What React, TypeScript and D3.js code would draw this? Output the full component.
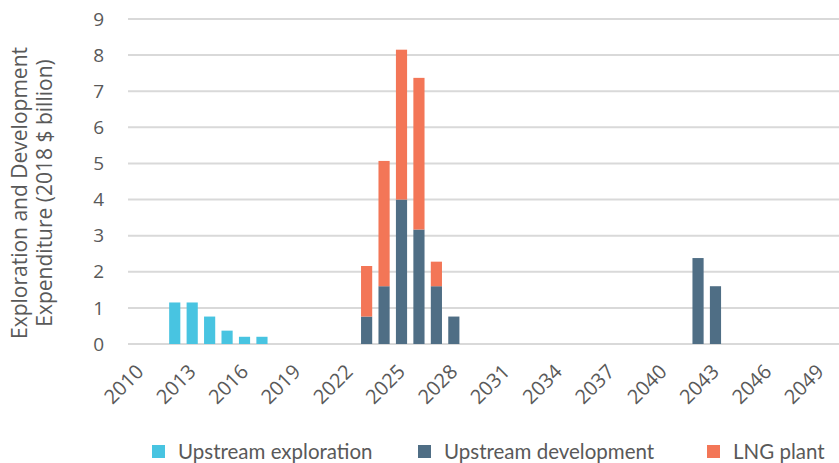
import * as d3 from 'd3';
import React, { useEffect, useRef } from 'react';

const years = [
  2010, 2011, 2012, 2013, 2014, 2015, 2016, 2017, 2018, 2019,
  2020, 2021, 2022, 2023, 2024, 2025, 2026, 2027, 2028, 2029,
  2030, 2031, 2032, 2033, 2034, 2035, 2036, 2037, 2038, 2039,
  2040, 2041, 2042, 2043, 2044, 2045, 2046, 2047, 2048, 2049
];
const tickYears = [2010, 2013, 2016, 2019, 2022, 2025, 2028, 2031, 2034, 2037, 2040, 2043, 2046, 2049];
const yTicks = [0, 1, 2, 3, 4, 5, 6, 7, 8, 9];

const explorationYears = [2012, 2013, 2014, 2015, 2016, 2017];
const explorationValues = [1.15, 1.15, 0.76, 0.37, 0.2, 0.2];

const developmentYears = [2023, 2024, 2025, 2026, 2027, 2028, 2042, 2043];
const developmentValues = [0.76, 1.6, 4.0, 3.17, 1.6, 0.76, 2.38, 1.6];

const lngYears = [2023, 2024, 2025, 2026, 2027];
const lngValues = [1.4, 3.47, 4.15, 4.2, 0.68];

const seriesNames = ['Upstream exploration', 'Upstream development', 'LNG plant'];
const seriesColors = ['#48c4e1', '#4f6e85', '#f37657'];

const W = 839;
const H = 463;

export default function App() {
  const svgRef = useRef<SVGSVGElement | null>(null);

  useEffect(() => {
    const svg = d3.select(svgRef.current);
    svg.selectAll('*').remove();

    // build the table: one row per year, one column per series
    const lookup = (ys: number[], vs: number[], y: number) => {
      const i = ys.indexOf(y);
      return i < 0 ? 0 : vs[i];
    };
    const table = years.map((y) => ({
      year: String(y),
      [seriesNames[0]]: lookup(explorationYears, explorationValues, y),
      [seriesNames[1]]: lookup(developmentYears, developmentValues, y),
      [seriesNames[2]]: lookup(lngYears, lngValues, y)
    }));

    const stacked = d3.stack<any>().keys(seriesNames)(table);

    const x = d3.scaleBand().domain(years.map(String)).range([128, 832]).padding(0.36);
    const y = d3.scaleLinear().domain([0, 9]).range([344, 19]);
    const color = d3.scaleOrdinal<string, string>().domain(seriesNames).range(seriesColors);

    const font = '"Open Sans", sans-serif';
    const textColor = '#595959';

    // grid lines
    svg
      .append('g')
      .selectAll('line')
      .data(yTicks)
      .enter()
      .append('line')
      .attr('x1', 128)
      .attr('x2', W)
      .attr('y1', (d) => y(d))
      .attr('y2', (d) => y(d))
      .attr('stroke', '#d9d9d9')
      .attr('stroke-width', 2);

    // y tick labels
    svg
      .append('g')
      .selectAll('text')
      .data(yTicks)
      .enter()
      .append('text')
      .attr('x', 104)
      .attr('y', (d) => y(d))
      .attr('dy', '0.35em')
      .attr('text-anchor', 'end')
      .style('font-family', font)
      .style('font-size', '19px')
      .attr('fill', textColor)
      .text((d) => d);

    // bars
    svg
      .append('g')
      .selectAll('g')
      .data(stacked)
      .enter()
      .append('g')
      .attr('fill', (d) => color(d.key))
      .selectAll('rect')
      .data((d) => d.filter((p) => p[1] - p[0] > 0))
      .enter()
      .append('rect')
      .attr('x', (d) => x(d.data.year)!)
      .attr('width', x.bandwidth())
      .attr('y', (d) => y(d[1]))
      .attr('height', (d) => y(d[0]) - y(d[1]));

    // x tick labels, rotated
    svg
      .append('g')
      .selectAll('text')
      .data(tickYears)
      .enter()
      .append('text')
      .attr('transform', (d) => `translate(${x(String(d))! + x.bandwidth() / 2},368) rotate(-45)`)
      .attr('dy', '0.35em')
      .attr('text-anchor', 'end')
      .style('font-family', font)
      .style('font-size', '20px')
      .attr('fill', textColor)
      .text((d) => d);

    // y axis title (two lines)
    const title = svg
      .append('text')
      .attr('transform', 'translate(0,193) rotate(-90)')
      .attr('text-anchor', 'middle')
      .style('font-family', font)
      .style('font-size', '21px')
      .attr('fill', textColor);
    title.append('tspan').attr('x', 0).attr('y', 27).text('Exploration and Development');
    title.append('tspan').attr('x', 0).attr('y', 52).text('Expenditure (2018 $ billion)');

    // legend
    const legendX = [152, 418, 707];
    const legend = svg
      .append('g')
      .selectAll('g')
      .data(seriesNames)
      .enter()
      .append('g')
      .attr('transform', (_, i) => `translate(${legendX[i]},445)`);
    legend
      .append('rect')
      .attr('width', 13)
      .attr('height', 13)
      .attr('fill', (d) => color(d));
    legend
      .append('text')
      .attr('x', 26)
      .attr('y', 6.5)
      .attr('dy', '0.35em')
      .style('font-family', 'Lato, sans-serif')
      .style('font-size', '20.5px')
      .attr('fill', textColor)
      .text((d) => d);
  }, []);

  return (
    <div style={{ position: 'absolute', left: 0, top: 0, width: W, height: H, background: '#fff' }}>
      <svg ref={svgRef} width={W} height={H} />
    </div>
  );
}
